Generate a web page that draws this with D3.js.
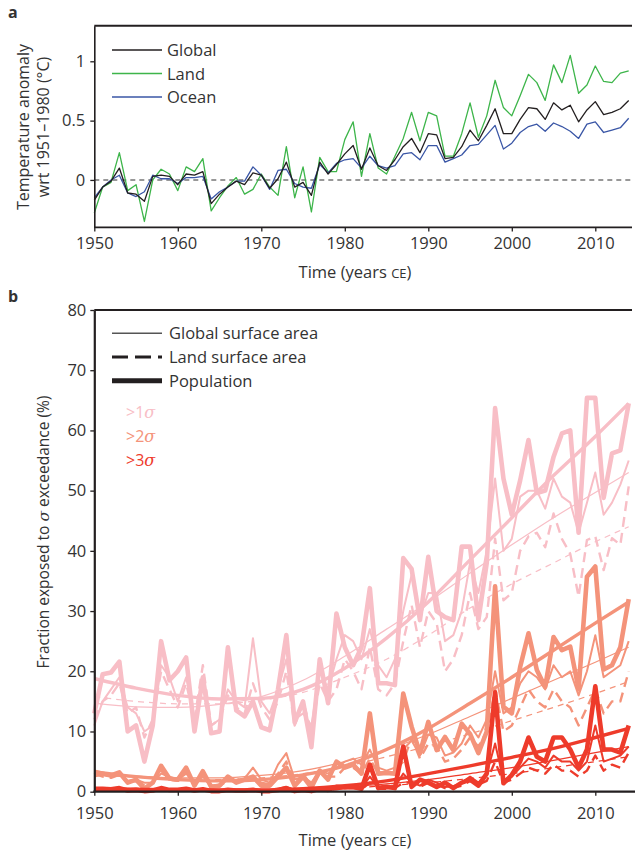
<!DOCTYPE html>
<html><head><meta charset="utf-8">
<script src="https://cdn.jsdelivr.net/npm/d3@7"></script>
<style>
body{margin:0;background:#fff}
svg{display:block}
text{font-family:"Open Sans","Noto Sans",sans-serif;fill:#333}
</style>
</head><body>
<svg id="c" width="635" height="850"></svg>
<script>
// ---------- DATA ----------
const years = d3.range(1950, 2015);
const fitYears = [1950,1955,1960,1965,1970,1975,1980,1985,1990,1995,2000,2005,2010,2014];
const xTicks = [1950,1960,1970,1980,1990,2000,2010];
const yTicksA = [0, 0.5, 1];
const yTicksB = [0,10,20,30,40,50,60,70,80];

// Panel a: temperature anomaly (°C)
const globalT = [-0.17,-0.06,-0.01,0.10,-0.11,-0.12,-0.18,0.03,0.04,0.03,
 -0.04,0.05,0.04,0.07,-0.20,-0.12,-0.06,-0.01,-0.04,0.06,
 0.04,-0.07,0.01,0.15,-0.06,-0.02,-0.13,0.15,0.05,0.13,
 0.22,0.29,0.09,0.27,0.12,0.08,0.17,0.28,0.35,0.23,
 0.39,0.38,0.18,0.19,0.28,0.42,0.33,0.46,0.60,0.39,
 0.39,0.51,0.61,0.60,0.51,0.65,0.59,0.63,0.49,0.59,
 0.66,0.55,0.57,0.60,0.67];
const landT = [-0.28,-0.06,-0.02,0.23,-0.09,-0.04,-0.35,0.00,0.09,0.05,
 -0.09,0.11,0.07,0.18,-0.26,-0.15,-0.05,0.02,-0.12,-0.08,
 0.05,-0.06,-0.13,0.28,-0.15,0.11,-0.27,0.19,0.07,0.07,
 0.34,0.49,0.03,0.39,0.10,0.05,0.20,0.35,0.57,0.33,
 0.57,0.54,0.20,0.20,0.39,0.65,0.36,0.54,0.84,0.61,
 0.54,0.71,0.89,0.82,0.67,0.97,0.82,1.05,0.73,0.80,
 0.96,0.83,0.82,0.90,0.92];
const oceanT = [-0.15,-0.06,0.00,0.04,-0.11,-0.14,-0.10,0.04,0.01,0.01,
 -0.03,0.02,0.02,0.03,-0.16,-0.10,-0.06,-0.01,-0.01,0.11,
 0.04,-0.08,0.08,0.09,-0.03,-0.06,-0.07,0.13,0.06,0.14,
 0.17,0.18,0.10,0.20,0.12,0.10,0.12,0.22,0.23,0.17,
 0.29,0.29,0.15,0.18,0.21,0.29,0.30,0.38,0.46,0.26,
 0.31,0.40,0.45,0.47,0.41,0.48,0.45,0.41,0.35,0.47,
 0.49,0.40,0.42,0.44,0.52];

// Panel b: fraction exposed (%)
const s1Pop = [13,19.5,19.8,21.6,10,11,5,11,25,18.5,
 20,22.3,10,19,9.7,10,24,13.5,12.5,15,
 10.7,10.2,17,26,11.5,15,7.4,22,14.7,29.6,
 24,21,24,33.8,18,18,17.7,38.8,37,28.5,
 39,30,29,28.5,40.7,40.7,28.5,38,63.7,52,
 46,51.7,58.4,49.6,50,55.6,59.5,60,43,65.4,
 65.4,48.8,56.2,56.7,64.5];
const s1Glob = [11,15,17,19,14,13,10,11,21,19,
 15,19,12,18,11,12,17,15,14,25.5,
 15,13,17,22,12,13,11,20,17,22,
 26,25,22,27,21,19,22,30,36,29,
 33,33,25,26,30,38,33,40,52,40,
 42,49,50,50,47,52,49,48,43,48,
 53,46,48,51,55];
const s1Land = [12,15,16,18,13,14,9,12,20,17,
 14,18,12,21,11,12,16,14,13,18,
 14,12,15,20,11,15,10,18,15,17,
 22,20,17,24,17,16,18,25,31,24,
 30,28,20,22,26,33,27,29,42,31.8,
 33,40,42.4,43,40.6,46.2,42,39.5,32.4,41.8,
 42.4,36.8,42.1,41,50.7];
const s2Pop = [3.3,3,2.7,3.2,1.5,2,0.5,1.5,4.3,2.2,
 2,4,1,3.4,0.8,1,2.5,1.5,2,2.5,
 1,1,2.5,4,1,2.5,0.7,3.5,2,5,
 4,4.5,3,13,3,3.1,3,16.3,10.8,6.4,
 11.6,6.9,9.1,6.9,11.3,9.6,6.4,10,34.1,14.1,
 13,20.7,26.3,20.2,17.4,25.7,23.5,24.1,17,35.7,
 37.4,20.3,21,24,32];
const s2Glob = [2.5,2.8,2.5,3,1.8,2,1.5,1.5,3,2.5,
 2,3,1.5,2.5,1,1.2,2,2,2.2,4,
 2,1.5,4.5,6.4,2,2.5,1.5,3.5,3,4,
 5,5.5,4.5,7,4,3.5,4,7,8.5,6,
 9.5,9,6,6.5,8,11,9,12,20,13,
 14,18,20,19,17,21,19,20,16,20,
 26,19,20,21,25];
const s2Land = [3,2.5,2.3,2.8,1.5,2.2,1,1.5,3.5,2,
 1.8,3.2,1.2,2.8,0.8,1,1.8,1.8,2.5,2,
 1.5,1.2,3,5,1.2,3,1,3,2.5,2.5,
 4,4,3,5.5,3,3,3.5,5,9,5.5,
 8,7.5,5,5.5,7,9,7.5,10,17,10,
 11,14,17,15,14,17,15,14,11,14,
 17,13,15,15,20];
const s3Pop = [0.5,0.5,0.4,0.6,0.2,0.3,0.1,0.2,0.6,0.3,
 0.3,0.5,0.2,0.4,0.1,0.1,0.3,0.2,0.2,0.3,
 0.1,0.1,0.3,0.6,0.1,0.3,0.1,0.5,0.3,0.8,
 0.7,0.8,0.5,4.5,0.6,0.8,0.6,7.5,0.8,2,
 1.5,0.8,1.5,0.6,1.5,2,1,3,16.5,1.4,
 2.8,5,9,5.8,5,9,9,7,4,7,
 17.5,7,7,6.5,11];
const s3Glob = [0.3,0.3,0.3,0.4,0.2,0.2,0.1,0.2,0.4,0.3,
 0.2,0.4,0.2,0.3,0.1,0.1,0.2,0.2,0.2,0.4,
 0.2,0.1,0.5,0.8,0.2,0.3,0.1,0.5,0.4,0.6,
 0.8,0.9,0.6,2.5,0.7,0.6,0.8,3,1.5,1,
 2,1.5,0.8,0.9,1.5,2.5,1.5,3,8,2,
 2.5,4,5.5,5,4,6,5,5,3.5,5,
 11,5,5.5,6,7.5];
const s3Land = [0.3,0.3,0.3,0.4,0.2,0.2,0.1,0.2,0.4,0.2,
 0.2,0.3,0.2,0.3,0.1,0.1,0.2,0.2,0.2,0.2,
 0.2,0.1,0.3,0.6,0.1,0.3,0.1,0.4,0.3,0.4,
 0.6,0.6,0.4,1.5,0.5,0.5,0.6,1.5,1.5,0.8,
 1.5,1.2,0.6,0.7,1,1.8,1.2,1.8,5,1.5,
 2,3,4,3.5,3,4.5,3.5,3.5,2.5,3.5,
 6,3.5,4.5,4,6.5];

// Trend fits (read at fitYears)
const s1PopFit  = [18.8,17.2,16,15.4,15.5,17,20.5,25.5,31.5,38.5,45.5,52.5,59,64.5];
const s1GlobFit = [14.7,14.1,14,14.5,15.8,18.5,22.5,27,31.5,36.3,41,45.5,49.7,53];
const s1LandFit = [15.8,15,14.6,14.6,15.2,16.5,19,22,26,30.5,34.5,38,41.5,44];
const s2PopFit  = [3.3,2.5,2,1.8,2,2.8,4.3,7,10.5,14.7,19,23.5,28,31.5];
const s2GlobFit = [3,2.6,2.3,2.3,2.7,3.5,5,7,9.5,12.5,15.5,18.5,21.5,24];
const s2LandFit = [2.8,2.4,2.1,2,2.3,3,4.2,5.8,7.6,9.6,11.8,14,16.3,18.3];
const s3PopFit  = [0.5,0.4,0.3,0.3,0.3,0.5,1,1.8,3,4.3,5.7,7.2,9,10.5];
const s3GlobFit = [0.3,0.3,0.3,0.3,0.3,0.4,0.8,1.3,2,3,4,5.2,6.5,7.5];
const s3LandFit = [0.3,0.3,0.3,0.3,0.3,0.4,0.6,1,1.5,2.2,3,4,5,5.8];

const sigmaLabels = [">1", ">2", ">3"];
const legendA = ["Global","Land","Ocean"];
const legendB = ["Global surface area","Land surface area","Population"];

// ---------- STYLE ----------
const colA = ["#231f20","#3db54a","#3a56a6"];
const colS = ["#f8bec6","#f4937a","#ee3b2b"];
const axisCol = "#231f20";

const svg = d3.select("#c");
const x = d3.scaleLinear().domain([1950,2014]).range([94.3,628.7]);
const yA = d3.scaleLinear().domain([-0.4,1.3]).range([227.4,25.7]);
const yB = d3.scaleLinear().domain([0,80]).range([791.7,310]);
const FS = 16.5;

function styleAxis(g, w){
  g.select(".domain").attr("stroke",axisCol).attr("stroke-width",w);
  g.selectAll(".tick line").attr("stroke",axisCol).attr("stroke-width",1.3);
  g.selectAll(".tick text").style("font-size",FS+"px").style("font-family",'"Open Sans",sans-serif').attr("fill","#333");
}

// ---------- PANEL A ----------
svg.append("line").attr("x1",x(1950)).attr("x2",632).attr("y1",yA(1.3)).attr("y2",yA(1.3))
  .attr("stroke",axisCol).attr("stroke-width",2);
svg.append("line").attr("x1",x(1950)).attr("x2",632).attr("y1",yA(0)).attr("y2",yA(0))
  .attr("stroke","#777").attr("stroke-width",1.5).attr("stroke-dasharray","5,4");

const lineA = d3.line().x((d,i)=>x(years[i])).y(d=>yA(d));
[landT, oceanT, globalT].forEach((s,k)=>{
  const c = [colA[1],colA[2],colA[0]][k];
  svg.append("path").attr("d",lineA(s)).attr("fill","none").attr("stroke",c).attr("stroke-width",1.3).attr("stroke-linejoin","round");
});

const gyA = svg.append("g").attr("transform",`translate(${x(1950)},0)`)
  .call(d3.axisLeft(yA).tickValues(yTicksA).tickFormat(d=>d===0?"0":(d===1?"1":d3.format(".1f")(d))).tickSize(4).tickPadding(5).tickSizeOuter(0));
styleAxis(gyA,1.6);
const gxA = svg.append("g").attr("transform",`translate(0,${yA(-0.4)})`)
  .call(d3.axisBottom(x).tickValues(xTicks).tickFormat(d3.format("d")).tickSize(4).tickPadding(6).tickSizeOuter(0));
styleAxis(gxA,1.6);
gxA.select(".domain").remove();
svg.append("line").attr("x1",x(1950)).attr("x2",632).attr("y1",yA(-0.4)).attr("y2",yA(-0.4)).attr("stroke",axisCol).attr("stroke-width",1.6);

legendA.forEach((t,i)=>{
  const yy = 50 + i*23.5;
  svg.append("line").attr("x1",112).attr("x2",162).attr("y1",yy).attr("y2",yy).attr("stroke",colA[i]).attr("stroke-width",1.3);
  svg.append("text").attr("x",167).attr("y",yy+6).style("font-size","16.5px").text(t);
});

svg.append("text").attr("transform","translate(29,127) rotate(-90)").attr("text-anchor","middle").style("font-size","16px").text("Temperature anomaly");
svg.append("text").attr("transform","translate(49,127) rotate(-90)").attr("text-anchor","middle").style("font-size","16px").text("wrt 1951–1980 (°C)");
function timeTitle(yb){
  const t = svg.append("text").attr("x",355).attr("y",yb).attr("text-anchor","middle").style("font-size","16.5px");
  t.append("tspan").text("Time (years ");
  t.append("tspan").style("font-size","13px").text("CE");
  t.append("tspan").text(")");
}
timeTitle(278);
svg.append("text").attr("x",8).attr("y",18).style("font-size","16px").style("font-weight","bold").attr("fill","#231f20").text("a");

// ---------- PANEL B ----------
svg.append("line").attr("x1",x(1950)).attr("x2",632).attr("y1",yB(80)).attr("y2",yB(80))
  .attr("stroke",axisCol).attr("stroke-width",2);

const lineB = d3.line().x((d,i)=>x(years[i])).y(d=>yB(d)).curve(d3.curveLinear);
const fitB = d3.line().x((d,i)=>x(fitYears[i])).y(d=>yB(d)).curve(d3.curveMonotoneX);

const groups = [
  {pop:s1Pop, glob:s1Glob, land:s1Land, popFit:s1PopFit, globFit:s1GlobFit, landFit:s1LandFit},
  {pop:s2Pop, glob:s2Glob, land:s2Land, popFit:s2PopFit, globFit:s2GlobFit, landFit:s2LandFit},
  {pop:s3Pop, glob:s3Glob, land:s3Land, popFit:s3PopFit, globFit:s3GlobFit, landFit:s3LandFit}
];
groups.forEach((g,k)=>{
  const c = colS[k];
  const gg = svg.append("g");
  gg.append("path").attr("d",fitB(g.landFit)).attr("fill","none").attr("stroke",c).attr("stroke-width",1.2).attr("stroke-dasharray","6,5");
  gg.append("path").attr("d",fitB(g.globFit)).attr("fill","none").attr("stroke",c).attr("stroke-width",1.2);
  gg.append("path").attr("d",lineB(g.land)).attr("fill","none").attr("stroke",c).attr("stroke-width",2.4).attr("stroke-dasharray","10,6").attr("stroke-linejoin","round");
  gg.append("path").attr("d",lineB(g.glob)).attr("fill","none").attr("stroke",c).attr("stroke-width",2).attr("stroke-linejoin","round");
  gg.append("path").attr("d",fitB(g.popFit)).attr("fill","none").attr("stroke",c).attr("stroke-width",3.4);
  gg.append("path").attr("d",lineB(g.pop)).attr("fill","none").attr("stroke",c).attr("stroke-width",4.6).attr("stroke-linejoin","round");
});

const gyB = svg.append("g").attr("transform",`translate(${x(1950)},0)`)
  .call(d3.axisLeft(yB).tickValues(yTicksB).tickSize(4).tickPadding(4).tickSizeOuter(0));
styleAxis(gyB,2.2);
const gxB = svg.append("g").attr("transform",`translate(0,${yB(0)})`)
  .call(d3.axisBottom(x).tickValues(xTicks).tickFormat(d3.format("d")).tickSize(4).tickPadding(12).tickSizeOuter(0));
styleAxis(gxB,2.2);
gxB.select(".domain").remove();
svg.append("line").attr("x1",x(1950)-1).attr("x2",635).attr("y1",yB(0)).attr("y2",yB(0)).attr("stroke",axisCol).attr("stroke-width",2.2);

const legStyles = [{w:1.5,d:null},{w:3,d:"16,7"},{w:5,d:null}];
legendB.forEach((t,i)=>{
  const yy = 333.3 + i*23.7;
  svg.append("line").attr("x1",112).attr("x2",162).attr("y1",yy).attr("y2",yy)
    .attr("stroke", i===0?"#555":"#231f20").attr("stroke-width",legStyles[i].w)
    .attr("stroke-dasharray",legStyles[i].d);
  svg.append("text").attr("x",169).attr("y",yy+6).style("font-size","16.5px").text(t);
});
sigmaLabels.forEach((t,i)=>{
  const tx = svg.append("text").attr("x",126).attr("y",418+i*24).style("font-size","16px").style("fill",colS[i]);
  tx.append("tspan").text(t);
  tx.append("tspan").style("font-style","italic").style("font-family",'"DejaVu Serif",serif').text("σ");
});

const yt = svg.append("text").attr("transform","translate(49,532) rotate(-90)").attr("text-anchor","middle").style("font-size","15.5px");
yt.append("tspan").text("Fraction exposed to ");
yt.append("tspan").style("font-style","italic").style("font-family",'"DejaVu Serif",serif').text("σ");
yt.append("tspan").text(" exceedance (%)");
timeTitle(846);
svg.append("text").attr("x",8).attr("y",302).style("font-size","16px").style("font-weight","bold").attr("fill","#231f20").text("b");
</script>
</body></html>
